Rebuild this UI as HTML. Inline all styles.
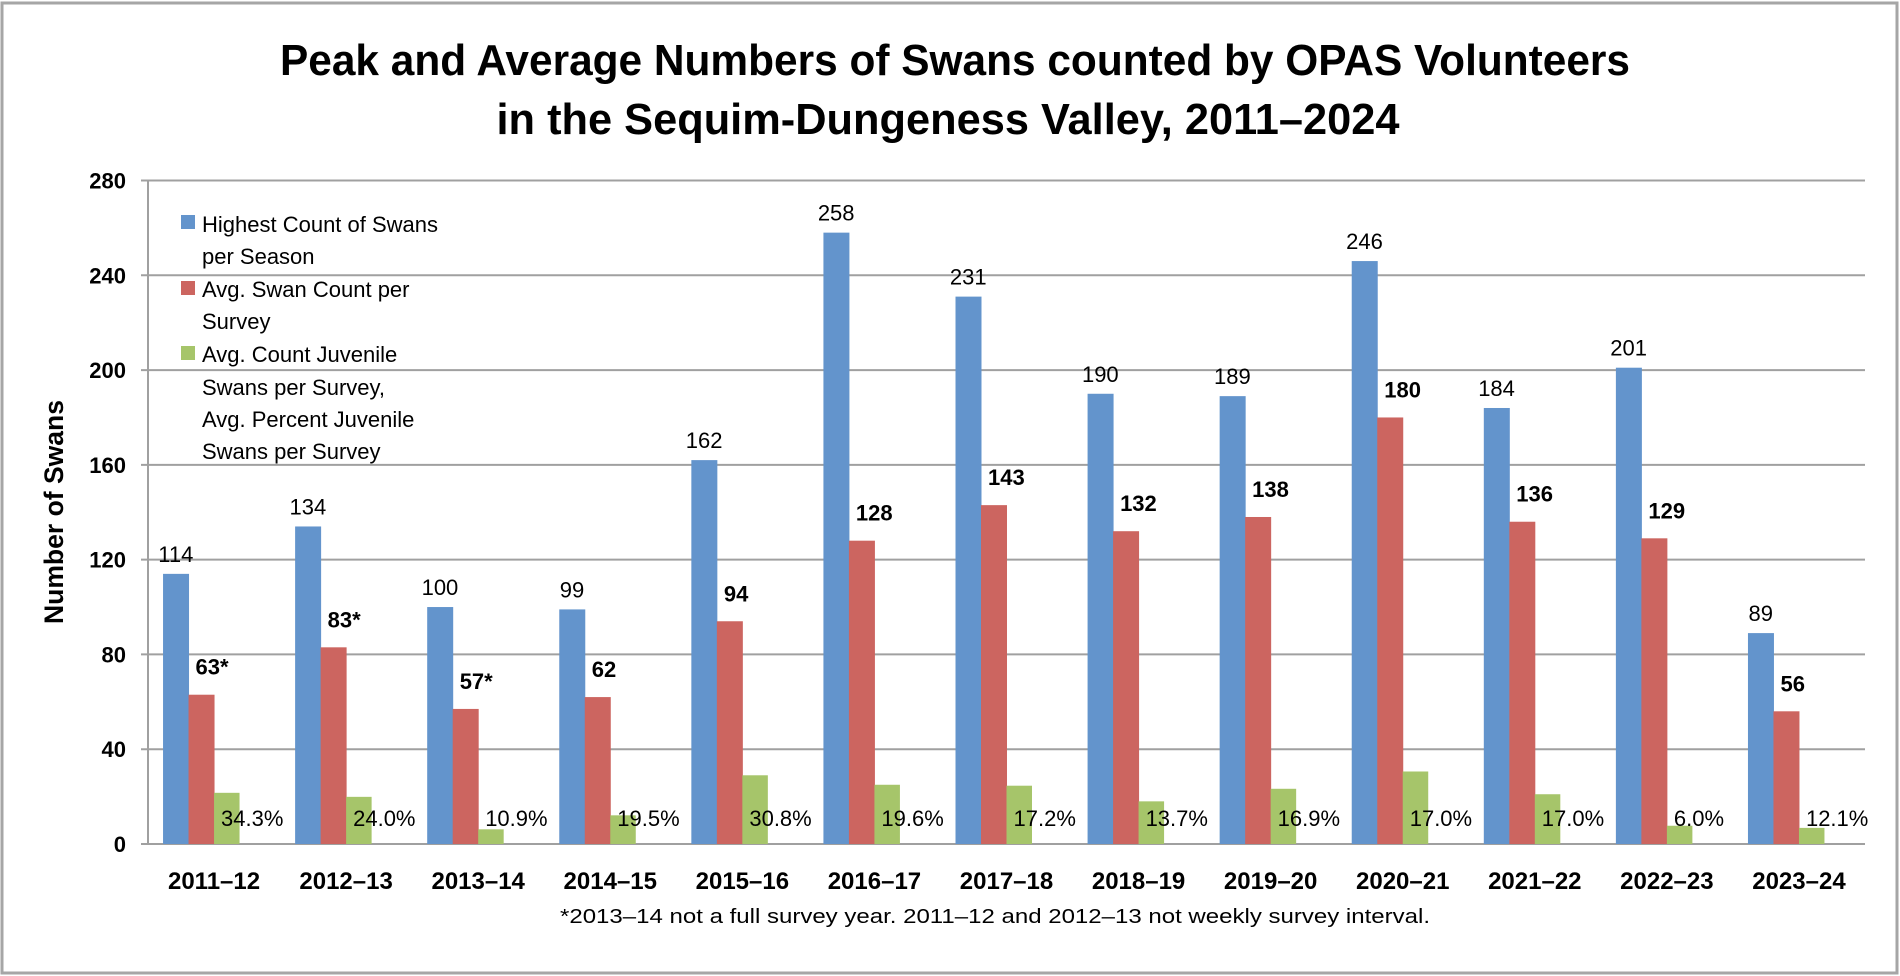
<!DOCTYPE html>
<html><head><meta charset="utf-8"><style>
html,body{margin:0;padding:0;background:#fff;}
svg{display:block;font-family:"Liberation Sans",sans-serif;}
</style></head><body>
<svg id="chart" width="1900" height="976" viewBox="0 0 1900 976" xmlns="http://www.w3.org/2000/svg">
<rect x="2" y="3" width="1895" height="970" fill="#fff" stroke="#a6a6a6" stroke-width="3"/>
<text x="955" y="75" text-anchor="middle" font-size="44" font-weight="bold" textLength="1350" lengthAdjust="spacingAndGlyphs">Peak and Average Numbers of Swans counted by OPAS Volunteers</text>
<text x="948" y="134" text-anchor="middle" font-size="44" font-weight="bold" textLength="903" lengthAdjust="spacingAndGlyphs">in the Sequim-Dungeness Valley, 2011–2024</text>
<text transform="translate(63,512) rotate(-90)" text-anchor="middle" font-size="27" font-weight="bold" textLength="224" lengthAdjust="spacingAndGlyphs">Number of Swans</text>
<g id="grid"></g>
<g id="bars"></g>
<g id="labels"></g>
<g>
<rect x="181" y="215" width="14" height="14" fill="#6394cc"/>
<text font-size="22"><tspan x="202" y="232">Highest Count of Swans</tspan><tspan x="202" y="264">per Season</tspan></text>
<rect x="181" y="281" width="14" height="14" fill="#cc6560"/>
<text font-size="22"><tspan x="202" y="297">Avg. Swan Count per</tspan><tspan x="202" y="329">Survey</tspan></text>
<rect x="181" y="346" width="14" height="14" fill="#a6c56a"/>
<text font-size="22"><tspan x="202" y="362">Avg. Count Juvenile</tspan><tspan x="202" y="395">Swans per Survey,</tspan><tspan x="202" y="427">Avg. Percent Juvenile</tspan><tspan x="202" y="459">Swans per Survey</tspan></text>
</g>
<text x="995" y="923" text-anchor="middle" font-size="20" textLength="870" lengthAdjust="spacingAndGlyphs">*2013–14 not a full survey year.  2011–12 and 2012–13 not weekly survey interval.</text>
</svg>
<script>
const categories = ["2011–12","2012–13","2013–14","2014–15","2015–16","2016–17","2017–18","2018–19","2019–20","2020–21","2021–22","2022–23","2023–24"];
const highest = [114,134,100,99,162,258,231,190,189,246,184,201,89];
const average = [63,83,57,62,94,128,143,132,138,180,136,129,56];
const avgLabels = ["63*","83*","57*","62","94","128","143","132","138","180","136","129","56"];
const juvenile = [21.6,19.9,6.2,12.1,29,25,24.6,18,23.3,30.6,21,7.7,6.8];
const juvPct = ["34.3%","24.0%","10.9%","19.5%","30.8%","19.6%","17.2%","13.7%","16.9%","17.0%","17.0%","6.0%","12.1%"];
const yTicks = [0,40,80,120,160,200,240,280];

const NS = "http://www.w3.org/2000/svg";
const x0 = 148, x1 = 1865, yBase = 844, yTop = 180.5, yMax = 280;
const band = (x1 - x0) / categories.length;
const y = v => yBase - (v / yMax) * (yBase - yTop);
const xc = i => x0 + band * (i + 0.5);
const bw = 25.5;
function mk(tag, attrs, parent, txt) {
  const e = document.createElementNS(NS, tag);
  for (const k in attrs) e.setAttribute(k, attrs[k]);
  if (txt !== undefined) e.textContent = txt;
  parent.appendChild(e);
  return e;
}
const grid = document.getElementById('grid');
const bars = document.getElementById('bars');
const labels = document.getElementById('labels');
yTicks.forEach(t => {
  const l = mk('line', {x1: 141, x2: x1, y1: y(t), y2: y(t), stroke: '#a0a0a0', 'stroke-width': 2}, grid);
  
  
  const tx = mk('text', {x: 126, y: y(t) + 8, 'text-anchor': 'end', 'font-size': 22, 'font-weight': 'bold'}, grid, String(t));
  
  
});
const ax = mk('line', {x1: x0, x2: x0, y1: yTop, y2: yBase, stroke: '#a0a0a0', 'stroke-width': 2}, grid);


categories.forEach((c, i) => {
  const gx = xc(i) - 51;
  const b1 = mk('rect', {x: gx, y: y(highest[i]), width: bw + 0.5, height: yBase - y(highest[i]), fill: '#6394cc'}, bars);
  
  
  const b2 = mk('rect', {x: gx + bw, y: y(average[i]), width: bw + 0.5, height: yBase - y(average[i]), fill: '#cc6560'}, bars);
  
  
  const b3 = mk('rect', {x: gx + 2 * bw, y: y(juvenile[i]), width: bw, height: yBase - y(juvenile[i]), fill: '#a6c56a'}, bars);
  
  
  const t1 = mk('text', {x: gx + bw / 2, y: y(highest[i]) - 12, 'text-anchor': 'middle', 'font-size': 22}, labels, String(highest[i]));
  
  
  const t2 = mk('text', {x: gx + bw + 7, y: y(average[i]) - 20, 'font-size': 22, 'font-weight': 'bold'}, labels, avgLabels[i]);
  
  
  const t3 = mk('text', {x: gx + 2 * bw + 7, y: 826, 'font-size': 22}, labels, juvPct[i]);
  
  
  const t4 = mk('text', {x: xc(i), y: 889, 'text-anchor': 'middle', 'font-size': 24, 'font-weight': 'bold'}, labels, c);
  
  
});
</script>
</body></html>
